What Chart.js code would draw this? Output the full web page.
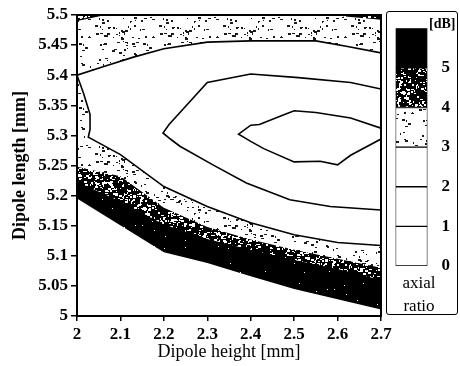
<!DOCTYPE html>
<html><head><meta charset="utf-8">
<script src="https://cdn.jsdelivr.net/npm/chart.js@4/dist/chart.umd.min.js"></script>
<style>
html,body{margin:0;padding:0;background:#fff;}
#wrap{position:relative;width:460px;height:366px;overflow:hidden;}
#main{position:absolute;left:0;top:0;}
#cbox{position:absolute;left:386px;top:11px;width:70px;height:302px;border:1.5px solid #000;border-radius:3px;background:#fff;}
#cbar{display:block;}
.lbl{position:absolute;font-family:'Liberation Serif','Times New Roman',serif;color:#000;line-height:1;white-space:nowrap;}
</style></head><body>
<div id="wrap"><canvas id="main" width="460" height="366"></canvas>
<div id="cbox"><canvas id="cbar" width="70" height="302"></canvas>
<div class="lbl" id="unit" style="left:42px;top:5px;font-size:14px;font-weight:bold;"></div>
<div class="lbl" id="bt0" style="left:0;width:64px;text-align:center;top:262px;font-size:17px;"></div>
<div class="lbl" id="bt1" style="left:0;width:64px;text-align:center;top:285px;font-size:17px;"></div>
</div></div>
<script>
// ---- data ----
const xTickLabels = ['2','2.1','2.2','2.3','2.4','2.5','2.6','2.7'];
const yTickLabels = ['5','5.05','5.1','5.15','5.2','5.25','5.3','5.35','5.4','5.45','5.5'];
const barTickLabels = ['0','1','2','3','4','5',''];
const barUnit = '[dB]';
const barLevels = [1,1,1,1,1,1];            // 0-1,1-2,2-3,3-4,4-5,5-6 dB
const xTitle = 'Dipole height [mm]';
const yTitle = 'Dipole length [mm]';
const barTitle = ['axial','ratio'];

// contour lines [x, y]  (dipole height, dipole length)
const contour6 = [[2,5.195],[2.2,5.106],[2.3,5.088],[2.4,5.066],[2.5,5.045],[2.6,5.028],[2.7,5.011]];
const contour5 = [[2,5.223],[2.1,5.19],[2.2,5.152],[2.3,5.128],[2.4,5.11],[2.5,5.093],[2.6,5.078],[2.7,5.06]];
const contour4 = [[2,5.248],[2.1,5.232],[2.2,5.18],[2.3,5.148],[2.4,5.127],[2.5,5.11],[2.6,5.095],[2.7,5.08]];
const contour4top = [[2.7,5.492],[2.58,5.5]];
const contour4topLeft = [[2,5.491],[2.06,5.5]];
const contour3 = [[2.7,5.437],[2.62,5.448],[2.55,5.457],[2.4,5.457],[2.3,5.455],[2.2,5.444],[2.13,5.43],[2.06,5.414],[2,5.40],
  [2.015,5.37],[2.03,5.335],[2.03,5.31],[2.026,5.297],[2.1,5.268],[2.2,5.215],[2.3,5.182],[2.4,5.155],[2.5,5.135],[2.6,5.122],[2.7,5.117]];
const contour2 = [[2.7,5.377],[2.63,5.388],[2.51,5.396],[2.4,5.402],[2.3,5.388],[2.212,5.318],[2.198,5.304],[2.215,5.294],
  [2.237,5.282],[2.313,5.251],[2.39,5.221],[2.49,5.193],[2.583,5.182],[2.7,5.176]];
const contour1 = [[2.7,5.312],[2.63,5.329],[2.55,5.338],[2.5,5.341],[2.475,5.334],[2.42,5.318],[2.40,5.317],[2.372,5.302],
  [2.40,5.29],[2.43,5.278],[2.50,5.256],[2.56,5.257],[2.60,5.251],[2.63,5.267],[2.7,5.294]];
const xMin = 2, xMax = 2.7, yMin = 5, yMax = 5.5;

document.getElementById('unit').textContent = barUnit;
document.getElementById('bt0').textContent = barTitle[0];
document.getElementById('bt1').textContent = barTitle[1];

// ---- textures ----
function makePattern(bg, fg, count, seed, maxW, maxH) {
  const c = document.createElement('canvas'); c.width = 64; c.height = 64;
  const g = c.getContext('2d');
  g.fillStyle = bg; g.fillRect(0,0,64,64);
  g.fillStyle = fg;
  let s = seed;
  const r = () => { s = (s * 1103515245 + 12345) & 0x7fffffff; return s / 0x7fffffff; };
  for (let i = 0; i < count; i++) {
    const x = Math.floor(r()*64), y = Math.floor(r()*64);
    const w = 1 + Math.floor(r()*maxW), h = 1 + Math.floor(r()*maxH);
    g.fillRect(x, y, w, h);
  }
  return g.createPattern(c, 'repeat');
}
const ctxMain = document.getElementById('main').getContext('2d');
const patLight = makePattern('#fff', '#1a1a1a', 120, 7, 3, 2);
const patDark  = makePattern('#000', '#fff', 420, 13, 3, 2);
const patBlack = makePattern('#000', '#fff', 14, 29, 1, 1);

const pts = a => a.map(p => ({x:p[0], y:p[1]}));
const topRight = [[2.7,5.5],[2,5.5]];

function region(points, bg, order) {
  return {data: pts(points), showLine:true, fill:'shape', backgroundColor:bg,
    borderColor:'transparent', borderWidth:0, pointRadius:0, tension:0, order};
}
function contourLine(points, order, fillBg) {
  return {data: pts(points), showLine:true, fill: fillBg ? 'shape' : false, backgroundColor: fillBg || 'transparent',
    borderColor:'#000', borderWidth:1.6, pointRadius:0, tension:0, order};
}

const datasets = [
  region(contour6.concat(topRight), patBlack, 20),
  region(contour5.concat(topRight), patDark, 19),
  region(contour4.concat(contour4top, [[2.06,5.5]], contour4topLeft.slice().reverse()), patLight, 18),
  contourLine(contour3, 17, '#fff'),
  contourLine(contour2, 16, '#fff'),
  contourLine(contour1, 15, '#fff'),
  contourLine(contour4topLeft, 14, null)
];
datasets[6].borderWidth = 1.2;

const frame = {
  id:'frame',
  afterDraw(chart){
    const {ctx, chartArea:a} = chart;
    ctx.save(); ctx.strokeStyle = '#000'; ctx.lineWidth = 2;
    ctx.strokeRect(a.left, a.top, a.right - a.left, a.bottom - a.top);
    ctx.restore();
  }
};

const serif = 'Liberation Serif, Times New Roman, serif';
new Chart(ctxMain, {
  type:'scatter',
  data:{datasets},
  options:{
    responsive:false, animation:false,
    layout:{padding:{top:15, right:79, left:0, bottom:0}},
    plugins:{legend:{display:false}, tooltip:{enabled:false}},
    scales:{
      x:{type:'linear', min:xMin, max:xMax,
        afterBuildTicks(s){ s.ticks = xTickLabels.map(t => ({value: parseFloat(t)})); },
        ticks:{color:'#000', font:{family:serif, size:17, weight:'bold'}, padding:3, maxRotation:0,
          callback:(v,i) => xTickLabels[i]},
        grid:{drawOnChartArea:false, drawTicks:true, tickLength:5, color:'#000', lineWidth:1.5},
        border:{display:false},
        title:{display:true, text:xTitle, color:'#000', font:{family:serif, size:18}, padding:{top:0, bottom:3}},
        afterFit(s){ s.height = 50; }
      },
      y:{type:'linear', min:yMin, max:yMax,
        afterBuildTicks(s){ s.ticks = yTickLabels.map(t => ({value: parseFloat(t)})); },
        ticks:{color:'#000', font:{family:serif, size:17, weight:'bold'}, padding:3,
          callback:(v,i) => yTickLabels[i]},
        grid:{drawOnChartArea:false, drawTicks:true, tickLength:6, color:'#000', lineWidth:1.5},
        border:{display:false},
        title:{display:true, text:yTitle, color:'#000', font:{family:serif, size:18, weight:'bold'}, padding:{top:10, bottom:0}},
        afterFit(s){ s.width = 77; }
      }
    }
  },
  plugins:[frame]
});

// ---- colour bar ----
const barFills = ['#fff','#fff','#fff', patLight, patDark, '#000'];
new Chart(document.getElementById('cbar'), {
  type:'bar',
  data:{labels:[''], datasets: barLevels.map((v,i) => ({data:[v], backgroundColor:barFills[i],
    borderColor:'#000', borderWidth:1, borderSkipped:false, categoryPercentage:1, barPercentage:1}))},
  options:{
    responsive:false, animation:false,
    layout:{padding:{left:8.5, top:10.5, right:0, bottom:0}},
    plugins:{legend:{display:false}, tooltip:{enabled:false}},
    scales:{
      x:{stacked:true, grid:{display:false}, border:{display:false}, ticks:{display:false},
        afterFit(s){ s.height = 48; }
      },
      y:{stacked:true, position:'right', min:0, max:6,
        grid:{display:false}, border:{display:false},
        ticks:{stepSize:1, padding:6, color:'#000', font:{family:serif, size:17, weight:'bold'},
          callback:(v) => barTickLabels[v]},
        afterFit(s){ s.width = 29.5; }
      }
    }
  }
});
</script>
</body></html>
